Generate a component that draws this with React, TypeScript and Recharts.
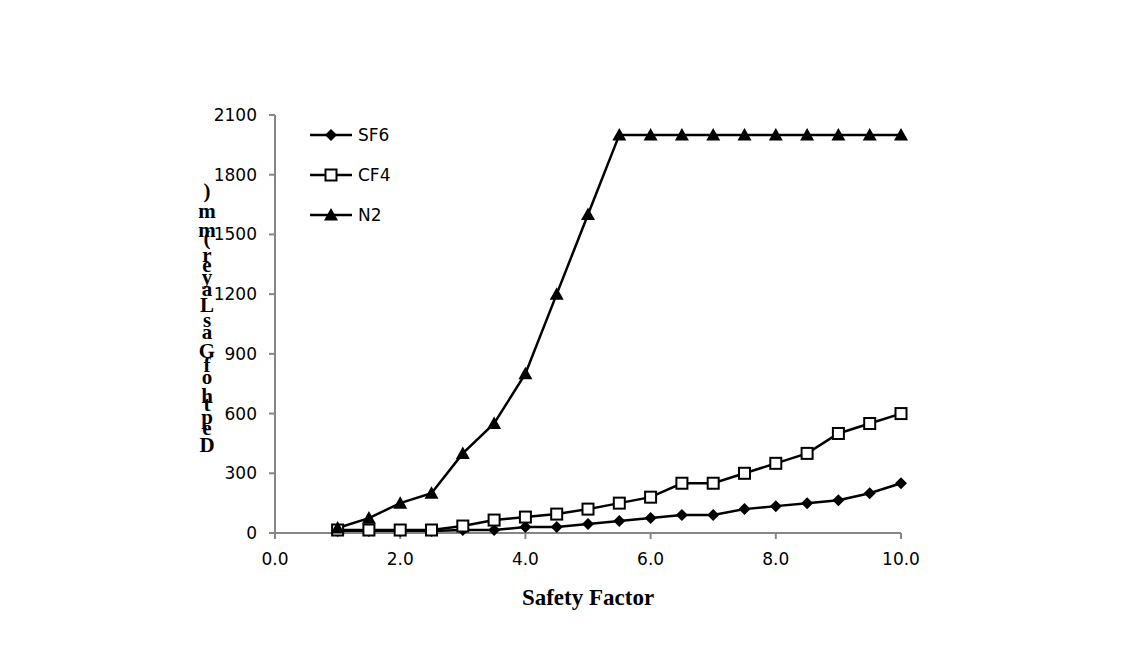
import React from 'react';
import { LineChart, Line, XAxis, YAxis } from 'recharts';

const safetyFactor = [1.0, 1.5, 2.0, 2.5, 3.0, 3.5, 4.0, 4.5, 5.0, 5.5, 6.0, 6.5, 7.0, 7.5, 8.0, 8.5, 9.0, 9.5, 10.0];
const sf6 = [10, 10, 10, 10, 15, 15, 30, 30, 45, 60, 75, 90, 90, 120, 135, 150, 165, 200, 250];
const cf4 = [15, 15, 15, 15, 35, 65, 80, 95, 120, 150, 180, 250, 250, 300, 350, 400, 500, 550, 600];
const n2 = [25, 75, 150, 200, 400, 550, 800, 1200, 1600, 2000, 2000, 2000, 2000, 2000, 2000, 2000, 2000, 2000, 2000];
const xTicks = [0, 2, 4, 6, 8, 10];
const yTicks = [0, 300, 600, 900, 1200, 1500, 1800, 2100];
const seriesNames = ['SF6', 'CF4', 'N2'];
const yTitle = 'Depth of Gas Layer (mm)';
const xTitle = 'Safety Factor';

const data = safetyFactor.map((x, i) => ({ x, SF6: sf6[i], CF4: cf4[i], N2: n2[i] }));

const tickFont = { fontFamily: 'DejaVu Sans', fontSize: 17, fill: '#000' };

const Diamond = ({ cx, cy, s = 6 }: any) => (
  <path d={`M${cx},${cy - s}L${cx + s},${cy}L${cx},${cy + s}L${cx - s},${cy}Z`} fill="#000" />
);
const Square = ({ cx, cy, s = 5.5 }: any) => (
  <rect x={cx - s} y={cy - s} width={2 * s} height={2 * s} fill="#fff" stroke="#000" strokeWidth={2} />
);
const Triangle = ({ cx, cy, s = 7 }: any) => (
  <path d={`M${cx},${cy - s}L${cx + s},${cy + s * 0.8}L${cx - s},${cy + s * 0.8}Z`} fill="#000" />
);

const markers: any = { SF6: Diamond, CF4: Square, N2: Triangle };

const mkDot = (name: string) => (props: any) => {
  const M = markers[name];
  if (props.cx == null || props.cy == null) return <g key={`${name}-e-${props.index}`} />;
  return <M key={`${name}-${props.index}`} cx={props.cx} cy={props.cy} />;
};

const LegendOverlay = () => (
  <svg width={120} height={120} style={{ position: 'absolute', left: 305, top: 120 }}>
    {seriesNames.map((n, i) => {
      const M = markers[n];
      const y = 15 + i * 40;
      return (
        <g key={n}>
          <line x1={5} y1={y} x2={47} y2={y} stroke="#000" strokeWidth={2.5} />
          <M cx={26} cy={y} />
          <text x={53} y={y + 6} fontFamily="DejaVu Sans" fontSize={17} fill="#000">{n}</text>
        </g>
      );
    })}
  </svg>
);

// Approximate Times-Bold advance widths (em)
const widths: Record<string, number> = {
  D: 0.72, e: 0.44, p: 0.56, t: 0.33, h: 0.56, ' ': 0.25, o: 0.5, f: 0.33, G: 0.78, a: 0.5,
  s: 0.39, L: 0.67, y: 0.5, r: 0.44, '(': 0.33, m: 0.83, ')': 0.33,
};

const StackedTitle = () => {
  const chars = yTitle.split('');
  const total = chars.reduce((a, c) => a + (widths[c] ?? 0.5), 0);
  const span = 262;
  const scale = span / total;
  let pos = 0;
  const items: any[] = [];
  chars.forEach((c, i) => {
    const w = (widths[c] ?? 0.5) * scale;
    if (c !== ' ') {
      items.push(
        <tspan key={i} x={207} y={452 - pos}>{c}</tspan>
      );
    }
    pos += w;
  });
  return (
    <svg width={1124} height={648} style={{ position: 'absolute', left: 0, top: 0, pointerEvents: 'none' }}>
      <text textAnchor="middle" fontFamily="Liberation Serif" fontWeight="bold" fontSize={21} fill="#000">
        {items}
      </text>
    </svg>
  );
};

export default function App() {
  return (
    <div style={{ position: 'absolute', left: 0, top: 0, width: 1124, height: 648, background: '#fff' }}>
      <LineChart width={1124} height={648} data={data} margin={{ top: 115, right: 223, bottom: 85, left: 215 }}>
        <XAxis
          dataKey="x"
          type="number"
          domain={[0, 10]}
          ticks={xTicks}
          tickFormatter={(v: number) => v.toFixed(1)}
          tick={tickFont}
          tickLine={{ stroke: '#868686', strokeWidth: 2 }}
          tickSize={6}
          tickMargin={14}
          axisLine={{ stroke: '#868686', strokeWidth: 2 }}
          height={30}
          label={{ value: xTitle, position: 'bottom', offset: 26, style: { fontFamily: 'Liberation Serif', fontWeight: 'bold', fontSize: 23, fill: '#000' } }}
        />
        <YAxis
          type="number"
          domain={[0, 2100]}
          ticks={yTicks}
          interval={0}
          tick={tickFont}
          tickLine={{ stroke: '#868686', strokeWidth: 2 }}
          tickSize={6}
          tickMargin={12}
          axisLine={{ stroke: '#868686', strokeWidth: 2 }}
          width={60}
        />
        {seriesNames.map((n) => (
          <Line
            key={n}
            dataKey={n}
            stroke="#000"
            strokeWidth={2.5}
            dot={mkDot(n)}
            activeDot={false}
            isAnimationActive={false}
            type="linear"
          />
        ))}
      </LineChart>
      <LegendOverlay />
      <StackedTitle />
    </div>
  );
}
